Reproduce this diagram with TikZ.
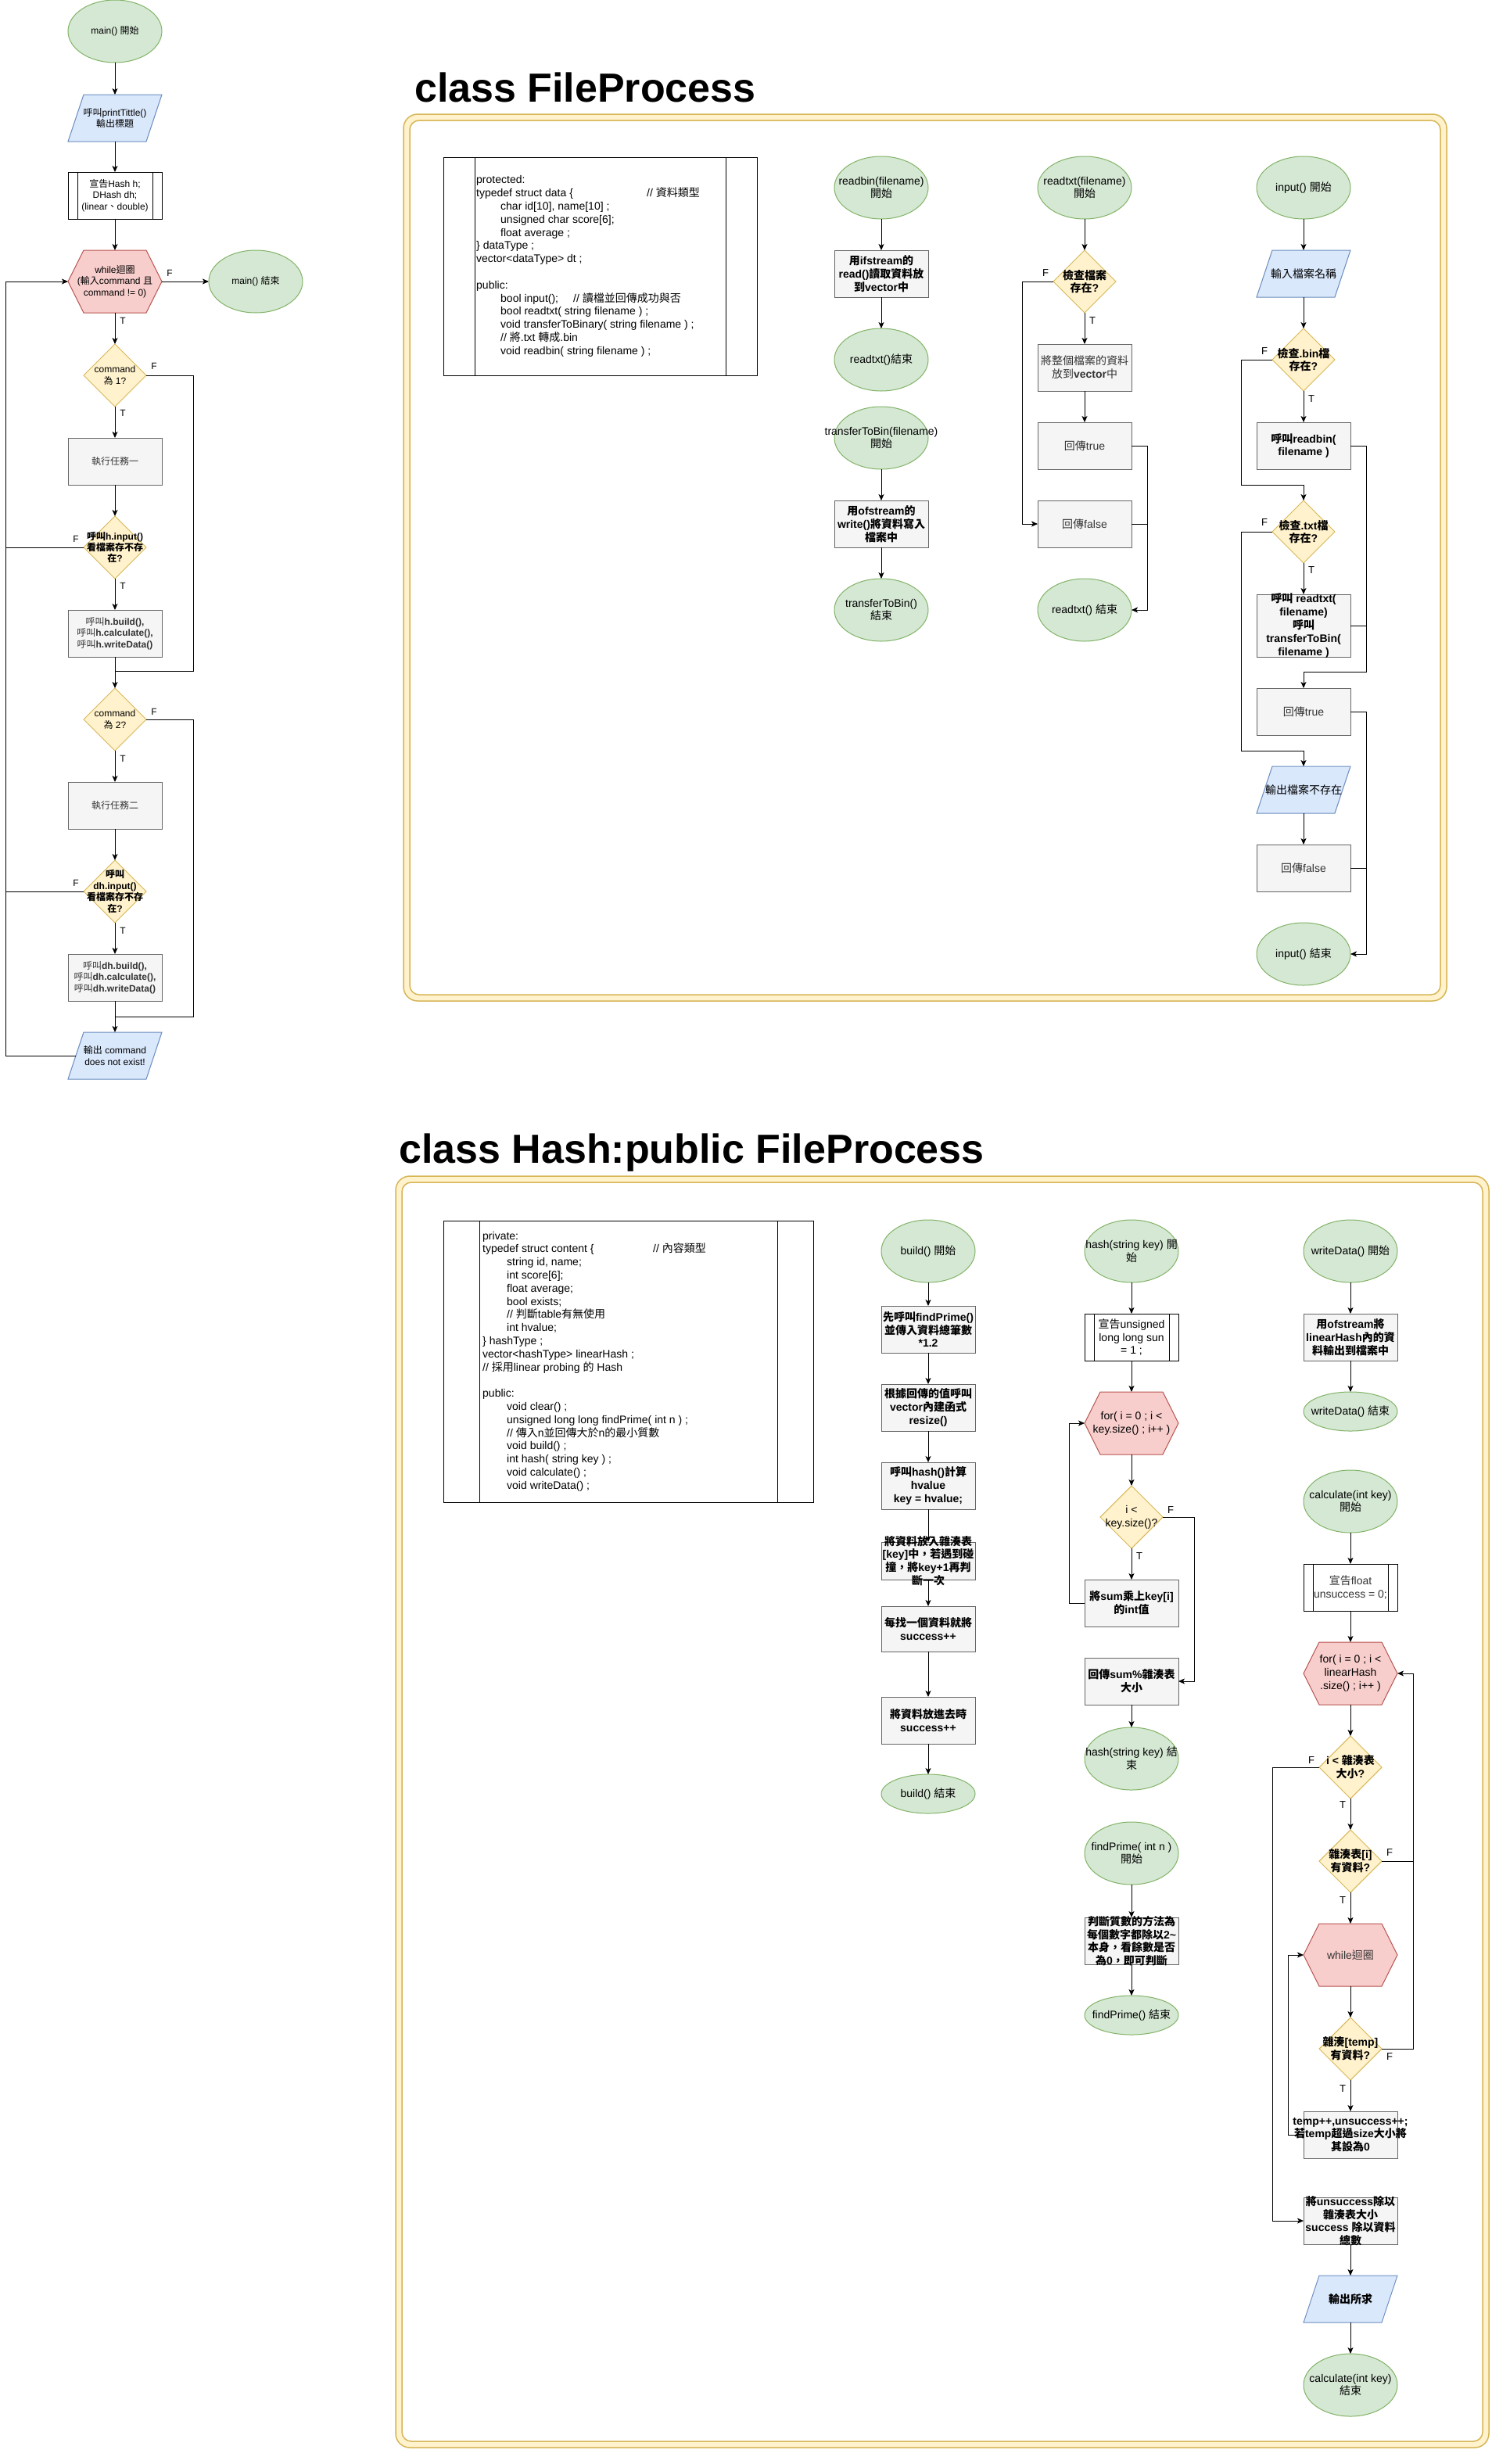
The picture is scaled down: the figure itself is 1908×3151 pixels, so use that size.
\documentclass[tikz,border=0pt]{standalone}
\usepackage{fontspec}
\setmainfont{Liberation Sans}
\newfontfamily\latfont{Liberation Sans}
\newfontfamily\cjkfont{Noto Sans CJK TC}
\usetikzlibrary{shapes.geometric,arrows.meta}
\XeTeXinterchartokenstate=1
\newXeTeXintercharclass\cjkcls
\newcount\cjkc
\cjkc="2E80
\loop \XeTeXcharclass\cjkc=\cjkcls \advance\cjkc by 1 \ifnum\cjkc<"A000 \repeat
\cjkc="FF00
\loop \XeTeXcharclass\cjkc=\cjkcls \advance\cjkc by 1 \ifnum\cjkc<"FFF0 \repeat
\XeTeXinterchartoks 0 \cjkcls={\cjkfont}
\XeTeXinterchartoks 4095 \cjkcls={\cjkfont}
\XeTeXinterchartoks \cjkcls 0={\latfont}
\XeTeXinterchartoks \cjkcls 4095={\latfont}
\definecolor{ellF}{HTML}{D5E8D4}\definecolor{ellD}{HTML}{82B366}
\definecolor{diaF}{HTML}{FFF2CC}\definecolor{diaD}{HTML}{D6B656}
\definecolor{hexF}{HTML}{F8CECC}\definecolor{hexD}{HTML}{B85450}
\definecolor{parF}{HTML}{DAE8FC}\definecolor{parD}{HTML}{6C8EBF}
\definecolor{prF}{HTML}{F5F5F5}\definecolor{prD}{HTML}{666666}
\definecolor{txtG}{HTML}{333333}
\tikzset{
 base/.style={inner sep=0pt, outer sep=0pt, line width=1pt},
 ell/.style={base, ellipse, draw=ellD, fill=ellF, minimum width=120pt, minimum height=80pt},
 dia/.style={base, diamond, draw=diaD, fill=diaF, minimum width=80pt, minimum height=80pt},
 proc/.style={base, rectangle, draw=prD, fill=prF, minimum width=120pt, minimum height=60pt},
 subp/.style={base, rectangle, draw=black, fill=white, minimum width=120pt, minimum height=60pt},
 anch/.style={base, rectangle, draw=none, minimum width=120pt, minimum height=60pt},
 parast/.style={line width=1pt, draw=parD, fill=parF},
 hexst/.style={line width=1pt, draw=hexD, fill=hexF},
 txt/.style={inner sep=0pt, align=center, text=black, font=\fontsize{12}{14.4}\selectfont},
 btxt/.style={txt, font=\fontsize{12}{14.4}\selectfont\bfseries},
 gtxt/.style={txt, text=txtG},
 lbl/.style={inner sep=0pt, font=\fontsize{12}{14}\selectfont},
 arr/.style={line width=1pt, -{Stealth[length=8pt,width=7pt,inset=2pt]}},
 ln/.style={line width=1pt},
 frameO/.style={fill=diaF, draw=diaD, line width=1.5pt, rounded corners=18pt},
 frameI/.style={fill=white, draw=diaD, line width=1.5pt, rounded corners=12pt},
 title/.style={inner sep=0pt, anchor=west, font=\fontsize{52}{60}\selectfont\bfseries},
 classbox/.style={base, rectangle, draw=black, fill=white},
 code/.style={inner sep=0pt, align=left, anchor=west, font=\fontsize{14}{16.8}\selectfont},
}
\newcommand\mknode[6][txt]{\node[#2] (#3) at (#4,#5) {};\node[#1] (#3t) at (#3.center) {#6};}
\newcommand\mksub[6][txt]{\node[subp] (#3) at (#4,#5) {};
 \draw[ln] ([xshift=#2pt]#3.north west) -- ([xshift=#2pt]#3.south west) ([xshift=-#2pt]#3.north east) -- ([xshift=-#2pt]#3.south east);
 \node[#1] (#3t) at (#3.center) {#6};}
\newcommand\mkpara[5][txt]{\path[parast] ({#3-60},{#4+30}) -- ({#3-40},{#4-30}) -- ({#3+60},{#4-30}) -- ({#3+40},{#4+30}) -- cycle;
 \node[anch,minimum height=60pt] (#2) at (#3,#4) {};\node[#1] (#2t) at (#2.center) {#5};}
\newcommand\mkhex[5][txt]{\path[hexst] ({#3-60},{#4}) -- ({#3-40},{#4-40}) -- ({#3+40},{#4-40}) -- ({#3+60},{#4}) -- ({#3+40},{#4+40}) -- ({#3-40},{#4+40}) -- cycle;
 \node[anch,minimum height=80pt] (#2) at (#3,#4) {};\node[#1] (#2t) at (#2.center) {#5};}
\begin{document}
\begin{tikzpicture}[x=1pt,y=-1pt]
\useasboundingbox (0,0) rectangle (1908,3151);
\fill[white] (0,0) rectangle (1908,3151);
% ================= MAIN =================
\mknode{ell}{M1}{147}{40}{main() 開始}
\mkpara{M2}{147}{151}{呼叫printTittle()\\輸出標題}
\mksub{12}{M3}{147}{250}{宣告Hash h;\\DHash dh;\\(linear、double)}
\mkhex{M4}{147}{360}{while迴圈\\(輸入command 且\\command != 0)}
\mknode{ell}{Mend}{327}{360}{main() 結束}
\mknode{dia}{M5}{147}{480}{command\\為 1?}
\mknode[gtxt]{proc}{M6}{147}{590}{執行任務一}
\mknode[btxt]{dia}{M7}{147}{700}{呼叫h.input()\\看檔案存不存\\在?}
\mknode[gtxt]{proc}{M8}{147}{810}{呼叫\textbf{h.build(),}\\呼叫\textbf{h.calculate(),}\\呼叫\textbf{h.writeData()}}
\mknode{dia}{M9}{147}{920}{command\\為 2?}
\mknode[gtxt]{proc}{M10}{147}{1030}{執行任務二}
\mknode[btxt]{dia}{M11}{147}{1140}{呼叫\\dh.input()\\看檔案存不存\\在?}
\mknode[gtxt]{proc}{M12}{147}{1250}{呼叫\textbf{dh.build(),}\\呼叫\textbf{dh.calculate(),}\\呼叫\textbf{dh.writeData()}}
\mkpara{M13}{147}{1350}{輸出 command\\does not exist!}
\coordinate (jA) at (247,858);
\coordinate (jB) at (247,1300);
\coordinate (jL) at (7,1350);
\coordinate (jL2) at (7,360);
\draw[arr] (M1.south) -- (M2.north);
\draw[arr] (M2.south) -- (M3.north);
\draw[arr] (M3.south) -- (M4.north);
\draw[arr] (M4.east) -- (Mend.west);
\draw[arr] (M4.south) -- (M5.north);
\draw[arr] (M5.south) -- (M6.north);
\draw[arr] (M6.south) -- (M7.north);
\draw[arr] (M7.south) -- (M8.north);
\draw[arr] (M8.south) -- (M9.north);
\draw[arr] (M9.south) -- (M10.north);
\draw[arr] (M10.south) -- (M11.north);
\draw[arr] (M11.south) -- (M12.north);
\draw[arr] (M12.south) -- (M13.north);
\draw[ln] (M5.east) -- (M5.east -| jA) -- (jA) -- (jA -| M9);
\draw[ln] (M9.east) -- (M9.east -| jB) -- (jB) -- (jB -| M13);
\draw[arr] ([xshift=10pt]M13.west) -- (jL) -- (jL2) -- (M4.west);
\draw[ln] (M7.west) -- (M7.west -| jL);
\draw[ln] (M11.west) -- (M11.west -| jL);
\node[lbl] (lF0) at (217,349) {F};
\node[lbl] (lT0) at (157,410) {T};
\node[lbl] (lF1) at (197,468) {F};
\node[lbl] (lT1) at (157,528) {T};
\node[lbl] (lF2) at (97,689) {F};
\node[lbl] (lT2) at (157,749) {T};
\node[lbl] (lF3) at (197,910) {F};
\node[lbl] (lT3) at (157,970) {T};
\node[lbl] (lF4) at (97,1129) {F};
\node[lbl] (lT4) at (157,1190) {T};
% ================= SECTIONS =================
\begin{scope}[txt/.style={inner sep=0pt, align=center, text=black, font=\fontsize{14}{16.8}\selectfont},
 btxt/.style={txt, font=\fontsize{14}{16.8}\selectfont\bfseries},
 lbl/.style={inner sep=0pt, font=\fontsize{13}{15}\selectfont}]
% ---- FileProcess ----
\path[frameO] (516,146) rectangle (1850,1280);
\path[frameI] (524,154) rectangle (1842,1272);
\node[title] (TFP) at (530,112) {class FileProcess};
\node[classbox, minimum width=401pt, minimum height=279pt] (FPbox) at (767.5,340.5) {};
\draw[ln] ([xshift=40pt]FPbox.north west) -- ([xshift=40pt]FPbox.south west) ([xshift=-40pt]FPbox.north east) -- ([xshift=-40pt]FPbox.south east);
\node[code] (FPcode) at (609,340.5) {protected:\\
\makebox[218pt][l]{typedef struct data \{}// 資料類型\\
\hspace*{31pt}char id[10], name[10] ;\\
\hspace*{31pt}unsigned char score[6];\\
\hspace*{31pt}float average ;\\
\} dataType ;\\
vector<dataType> dt ;\\
\mbox{}\\
public:\\
\hspace*{31pt}\makebox[93pt][l]{bool input();}// 讀檔並回傳成功與否\\
\hspace*{31pt}bool readtxt( string filename ) ;\\
\hspace*{31pt}void transferToBinary( string filename ) ;\\
\hspace*{31pt}// 將.txt 轉成.bin\\
\hspace*{31pt}void readbin( string filename ) ;};
\mknode{ell}{R1}{1127}{240}{readbin(filename)\\開始}
\mknode[btxt]{proc}{R2}{1127}{350}{用ifstream的\\read()讀取資料放\\到vector中}
\mknode{ell}{R3}{1127}{460}{readtxt()結束}
\mknode{ell}{T1}{1127}{560}{transferToBin(filename)\\開始}
\mknode[btxt]{proc}{T2}{1127}{670}{用ofstream的\\write()將資料寫入\\檔案中}
\mknode{ell}{T3}{1127}{780}{transferToBin()\\結束}
\draw[arr] (R1.south) -- (R2.north);
\draw[arr] (R2.south) -- (R3.north);
\draw[arr] (T1.south) -- (T2.north);
\draw[arr] (T2.south) -- (T3.north);
\mknode{ell}{X1}{1387}{240}{readtxt(filename)\\開始}
\mknode[btxt]{dia}{X2}{1387}{360}{檢查檔案\\存在?}
\mknode[gtxt]{proc}{X3}{1387}{470}{將整個檔案的資料\\放到\textbf{vector}中}
\mknode[gtxt]{proc}{X4}{1387}{570}{回傳true}
\mknode[gtxt]{proc}{X5}{1387}{670}{回傳false}
\mknode{ell}{X6}{1387}{780}{readtxt() 結束}
\coordinate (xL) at (1307,670);
\coordinate (xR) at (1467,780);
\draw[arr] (X1.south) -- (X2.north);
\draw[arr] (X2.south) -- (X3.north);
\draw[arr] (X3.south) -- (X4.north);
\draw[arr] (X2.west) -- (X2.west -| xL) -- (xL) -- (X5.west);
\draw[arr] (X4.east) -- (X4.east -| xR) -- (xR) -- (X6.east);
\draw[ln] (X5.east) -- (X5.east -| xR);
\node[lbl] (lF5) at (1337,349) {F};
\node[lbl] (lT5) at (1397,410) {T};
\mknode{ell}{I1}{1667}{240}{input() 開始}
\mkpara{I2}{1667}{350}{輸入檔案名稱}
\mknode[btxt]{dia}{I3}{1667}{460}{檢查.bin檔\\存在?}
\mknode[btxt]{proc}{I4}{1667}{570}{呼叫readbin(\\filename )}
\mknode[btxt]{dia}{I5}{1667}{680}{檢查.txt檔\\存在?}
\mknode[btxt]{proc,minimum height=80pt}{I6}{1667}{800}{呼叫 readtxt(\\filename)\\呼叫\\transferToBin(\\filename )}
\mknode[gtxt]{proc}{I7}{1667}{910}{回傳true}
\mkpara{I8}{1667}{1010}{輸出檔案不存在}
\mknode[gtxt]{proc}{I9}{1667}{1110}{回傳false}
\mknode{ell}{I10}{1667}{1220}{input() 結束}
\coordinate (iL1) at (1587,620);
\coordinate (iL2) at (1587,960);
\coordinate (iR1) at (1747,859);
\coordinate (iR2) at (1747,1220);
\draw[arr] (I1.south) -- (I2.north);
\draw[arr] (I2.south) -- (I3.north);
\draw[arr] (I3.south) -- (I4.north);
\draw[arr] (I3.west) -- (I3.west -| iL1) -- (iL1) -- (iL1 -| I5) -- (I5.north);
\draw[arr] (I5.south) -- (I6.north);
\draw[arr] (I5.west) -- (I5.west -| iL2) -- (iL2) -- (iL2 -| I8) -- (I8.north);
\draw[arr] (I4.east) -- (I4.east -| iR1) -- (iR1) -- (iR1 -| I7) -- (I7.north);
\draw[ln] (I6.east) -- (I6.east -| iR1);
\draw[arr] (I8.south) -- (I9.north);
\draw[arr] (I7.east) -- (I7.east -| iR2) -- (iR2) -- (I10.east);
\draw[ln] (I9.east) -- (I9.east -| iR2);
\node[lbl] (lF6) at (1617,449) {F};
\node[lbl] (lT6) at (1677,510) {T};
\node[lbl] (lF7) at (1617,668) {F};
\node[lbl] (lT7) at (1677,729) {T};
% ---- Hash ----
\path[frameO] (506,1504) rectangle (1904,3130);
\path[frameI] (514,1512) rectangle (1896,3122);
\node[title] (THS) at (510,1474) {class Hash:public FileProcess};
\node[classbox, minimum width=473pt, minimum height=360pt] (HSbox) at (803.5,1741) {};
\draw[ln] ([xshift=46pt]HSbox.north west) -- ([xshift=46pt]HSbox.south west) ([xshift=-46pt]HSbox.north east) -- ([xshift=-46pt]HSbox.south east);
\node[code] (HScode) at (617,1741) {private:\\
\makebox[218pt][l]{typedef struct content \{}// 內容類型\\
\hspace*{31pt}string id, name;\\
\hspace*{31pt}int score[6];\\
\hspace*{31pt}float average;\\
\hspace*{31pt}bool exists;\\
\hspace*{31pt}// 判斷table有無使用\\
\hspace*{31pt}int hvalue;\\
\} hashType ;\\
vector<hashType> linearHash ;\\
// 採用linear probing 的 Hash\\
\mbox{}\\
public:\\
\hspace*{31pt}void clear() ;\\
\hspace*{31pt}unsigned long long findPrime( int n ) ;\\
\hspace*{31pt}// 傳入n並回傳大於n的最小質數\\
\hspace*{31pt}void build() ;\\
\hspace*{31pt}int hash( string key ) ;\\
\hspace*{31pt}void calculate() ;\\
\hspace*{31pt}void writeData() ;};
\mknode{ell}{B1}{1187}{1600}{build() 開始}
\mknode[btxt]{proc}{B2}{1187}{1700}{先呼叫findPrime()\\並傳入資料總筆數\\*1.2}
\mknode[btxt]{proc}{B3}{1187}{1800}{根據回傳的值呼叫\\vector內建函式\\resize()}
\mknode[btxt]{proc}{B4}{1187}{1900}{呼叫hash()計算\\hvalue\\key = hvalue;}
\mknode[btxt]{proc,minimum height=48pt}{B5}{1187}{1996}{將資料放入雜湊表\\{}[key]中，若遇到碰\\撞，將key+1再判\\斷一次}
\mknode[btxt]{proc,minimum height=58pt}{B6}{1187}{2083}{每找一個資料就將\\success++}
\mknode[btxt]{proc}{B7}{1187}{2200}{將資料放進去時\\success++}
\mknode{ell,minimum height=50pt}{B8}{1187}{2294}{build() 結束}
\draw[arr] (B1.south) -- (B2.north);
\draw[arr] (B2.south) -- (B3.north);
\draw[arr] (B3.south) -- (B4.north);
\draw[arr] (B4.south) -- (B5.north);
\draw[arr] (B5.south) -- (B6.north);
\draw[arr] (B6.south) -- (B7.north);
\draw[arr] (B7.south) -- (B8.north);
\mknode{ell}{H1}{1447}{1600}{hash(string key) 開\\始}
\mksub{12}{H2}{1447}{1710}{宣告unsigned\\long long sun\\= 1 ;}
\mkhex{H3}{1447}{1820}{for( i = 0 ; i <\\key.size() ; i++ )}
\mknode{dia}{H4}{1447}{1940}{i <\\key.size()?}
\mknode[btxt]{proc}{H5}{1447}{2050}{將sum乘上key[i]\\的int值}
\mknode[btxt]{proc}{H6}{1447}{2150}{回傳sum\%雜湊表\\大小}
\mknode{ell}{H7}{1447}{2249}{hash(string key) 結\\束}
\mknode{ell}{F1}{1447}{2370}{findPrime( int n )\\開始}
\mknode[btxt]{proc}{F2}{1447}{2482}{判斷質數的方法為\\每個數字都除以2\textasciitilde\\本身，看餘數是否\\為0，即可判斷}
\mknode{ell,minimum height=50pt}{F3}{1447}{2577}{findPrime() 結束}
\coordinate (hL) at (1367,1820);
\coordinate (hR) at (1527,2150);
\draw[arr] (H1.south) -- (H2.north);
\draw[arr] (H2.south) -- (H3.north);
\draw[arr] (H3.south) -- (H4.north);
\draw[arr] (H4.south) -- (H5.north);
\draw[arr] (H5.west) -- (H5.west -| hL) -- (hL) -- (H3.west);
\draw[arr] (H4.east) -- (H4.east -| hR) -- (hR) -- (H6.east);
\draw[arr] (H6.south) -- (H7.north);
\draw[arr] (F1.south) -- (F2.north);
\draw[arr] (F2.south) -- (F3.north);
\node[lbl] (lF8) at (1497,1931) {F};
\node[lbl] (lT8) at (1457,1990) {T};
\mknode{ell}{W1}{1727}{1600}{writeData() 開始}
\mknode[btxt]{proc}{W2}{1727}{1710}{用ofstream將\\linearHash內的資\\料輸出到檔案中}
\mknode{ell,minimum height=50pt}{W3}{1727}{1805}{writeData() 結束}
\draw[arr] (W1.south) -- (W2.north);
\draw[arr] (W2.south) -- (W3.north);
\mknode{ell}{C1}{1727}{1920}{calculate(int key)\\開始}
\mksub[gtxt]{12}{C2}{1727}{2030}{宣告float\\unsuccess = 0;}
\mkhex{C3}{1727}{2140}{for( i = 0 ; i <\\linearHash\\.size() ; i++ )}
\mknode[btxt]{dia}{C4}{1727}{2260}{i < 雜湊表\\大小?}
\mknode[btxt]{dia}{C5}{1727}{2380}{雜湊表[i]\\有資料?}
\mkhex[gtxt]{C6}{1727}{2500}{while迴圈}
\mknode[btxt]{dia}{C7}{1727}{2620}{雜湊[temp]\\有資料?}
\mknode[btxt]{proc}{C8}{1727}{2730}{temp++,unsuccess++;\\若temp超過size大小將\\其設為0}
\mknode[btxt]{proc}{C9}{1727}{2840}{將unsuccess除以\\雜湊表大小\\success 除以資料\\總數}
\mkpara[btxt]{C10}{1727}{2940}{輸出所求}
\mknode{ell}{C11}{1727}{3050}{calculate(int key)\\結束}
\coordinate (cL1) at (1627,2840);
\coordinate (cL2) at (1647,2500);
\coordinate (cR) at (1807,2140);
\draw[arr] (C1.south) -- (C2.north);
\draw[arr] (C2.south) -- (C3.north);
\draw[arr] (C3.south) -- (C4.north);
\draw[arr] (C4.south) -- (C5.north);
\draw[arr] (C5.south) -- (C6.north);
\draw[arr] (C6.south) -- (C7.north);
\draw[arr] (C7.south) -- (C8.north);
\draw[arr] (C8.west) -- (C8.west -| cL2) -- (cL2) -- (C6.west);
\draw[arr] (C4.west) -- (C4.west -| cL1) -- (cL1) -- (C9.west);
\draw[arr] (C5.east) -- (C5.east -| cR) -- (cR) -- (C3.east);
\draw[ln] (C7.east) -- (C7.east -| cR) -- (C5.east -| cR);
\draw[arr] (C9.south) -- (C10.north);
\draw[arr] (C10.south) -- (C11.north);
\node[lbl] (lF9) at (1677,2251) {F};
\node[lbl] (lT9) at (1717,2308) {T};
\node[lbl] (lF10) at (1777,2369) {F};
\node[lbl] (lT10) at (1717,2430) {T};
\node[lbl] (lF11) at (1777,2630) {F};
\node[lbl] (lT11) at (1717,2671) {T};
\end{scope}
\end{tikzpicture}
\end{document}
